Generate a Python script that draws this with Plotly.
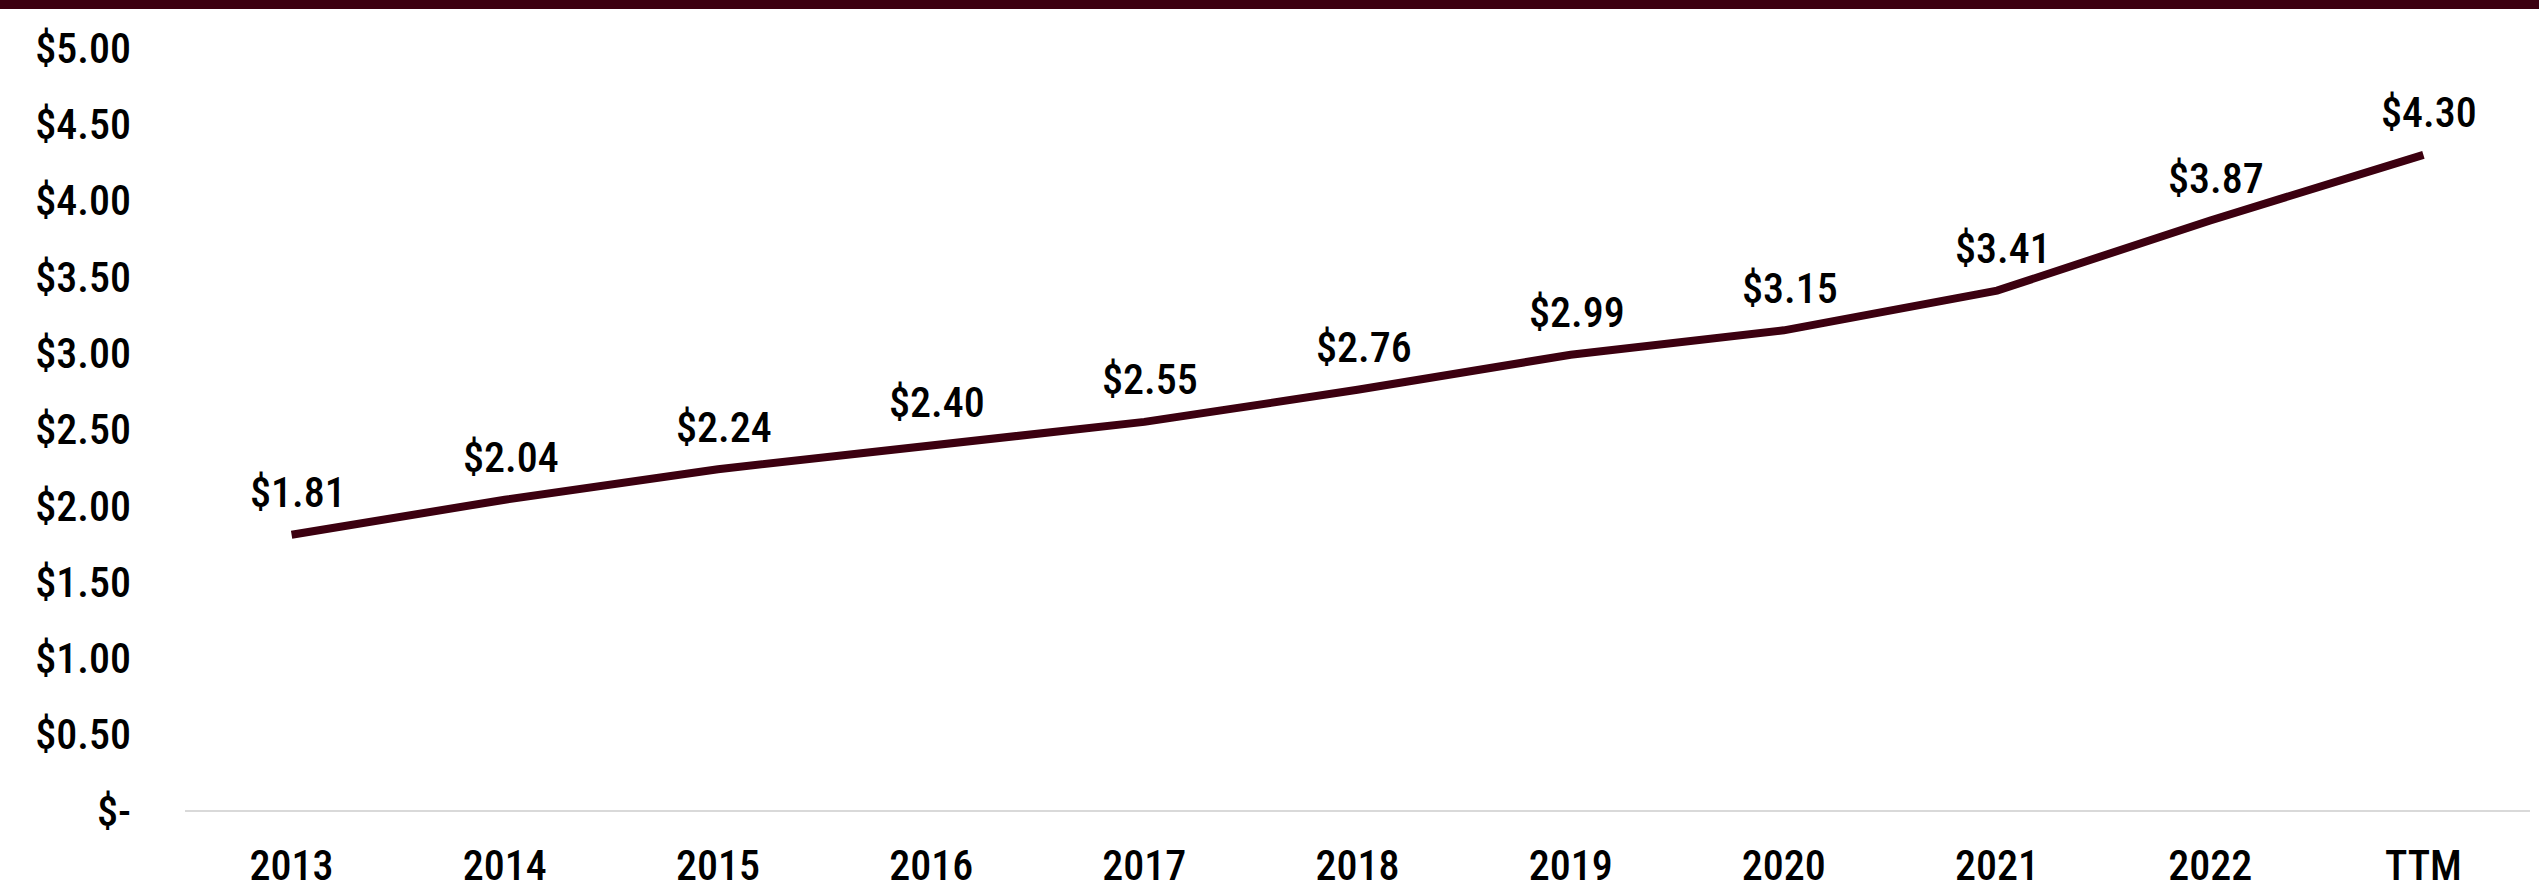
import plotly.graph_objects as go

# Annual dividend per share
periods = ["2013", "2014", "2015", "2016", "2017", "2018", "2019", "2020", "2021", "2022", "TTM"]
dividends = [1.81, 2.04, 2.24, 2.40, 2.55, 2.76, 2.99, 3.15, 3.41, 3.87, 4.30]

y_tick_values = [0, 0.5, 1.0, 1.5, 2.0, 2.5, 3.0, 3.5, 4.0, 4.5, 5.0]
y_tick_labels = ["$-", "$0.50", "$1.00", "$1.50", "$2.00", "$2.50", "$3.00",
                 "$3.50", "$4.00", "$4.50", "$5.00"]

MAROON = "#3c0010"
FONT = "Roboto Condensed, Liberation Sans Narrow, Roboto, sans-serif"
TEXT_FONT = dict(family=FONT, size=42, color="#000000", weight=500)

W, H = 2539, 889
ML, MR, MT, MB = 185, 9, 48, 78
pw, ph = W - ML - MR, H - MT - MB

fig = go.Figure()
fig.add_trace(go.Scatter(
    x=periods,
    y=dividends,
    mode="lines",
    line=dict(color=MAROON, width=8),
    cliponaxis=False,
    hoverinfo="skip",
))

# Value labels above each point (category index positions)
for i, v in enumerate(dividends):
    fig.add_annotation(
        x=i, y=v, xref="x", yref="y",
        text=f"${v:.2f}", showarrow=False,
        yshift=42, xshift=6,
        font=TEXT_FONT,
    )

# Maroon band across the top edge of the page
fig.add_shape(
    type="rect", xref="paper", yref="paper",
    x0=-ML / pw, x1=1 + MR / pw,
    y0=1 + (MT - 9) / ph, y1=1 + MT / ph,
    fillcolor=MAROON, line=dict(width=0), layer="above",
)

fig.update_layout(
    width=W, height=H,
    margin=dict(l=ML, r=MR, t=MT, b=MB, autoexpand=False),
    paper_bgcolor="white", plot_bgcolor="white",
    showlegend=False,
    font=TEXT_FONT,
    xaxis=dict(
        type="category", automargin=False,
        categoryorder="array", categoryarray=periods,
        range=[-0.5, len(periods) - 0.5],
        showgrid=False, zeroline=False,
        showline=False, ticks="",
        ticklabelstandoff=26,
        tickfont=TEXT_FONT,
    ),
    yaxis=dict(
        range=[0, 5], automargin=False,
        tickvals=y_tick_values, ticktext=y_tick_labels,
        showgrid=False,
        zeroline=True, zerolinecolor="#d9d9d9", zerolinewidth=2,
        showline=False, ticks="",
        ticklabelstandoff=53,
        tickfont=TEXT_FONT,
    ),
)

fig.write_html("out.html")
